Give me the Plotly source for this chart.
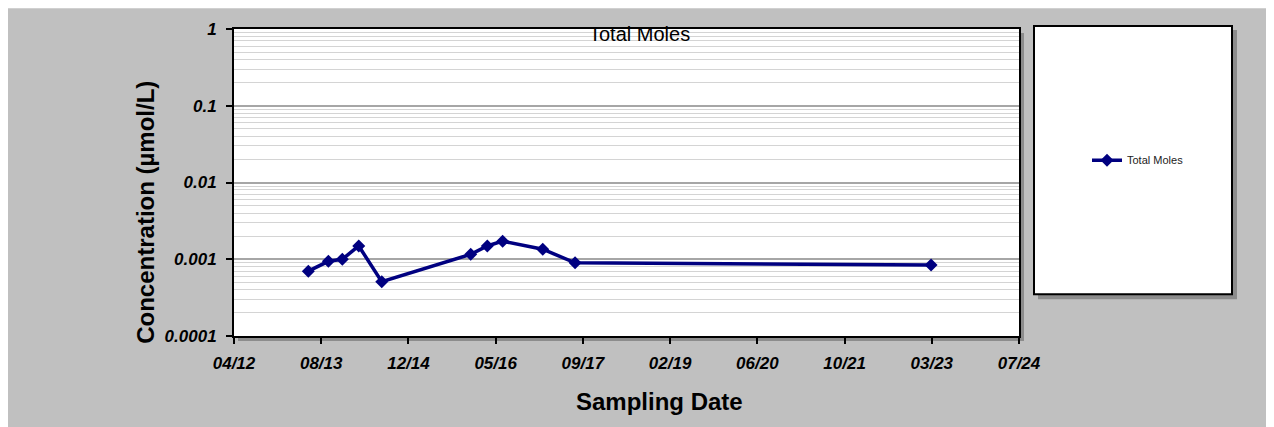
import pandas as pd
import plotly.graph_objects as go

# ---- data ----
sample_dates = ['2013-06-01', '2013-09-24', '2013-12-13', '2014-03-17', '2014-07-27',
                '2015-12-19', '2016-03-23', '2016-06-19', '2017-02-04', '2017-08-08',
                '2023-03-11']
total_moles = [0.00070, 0.00094, 0.00100, 0.00149, 0.00051,
               0.00116, 0.00149, 0.00172, 0.00135, 0.00090,
               0.00084]
y_tickvals = [1, 0.1, 0.01, 0.001, 0.0001]
y_ticktext = ['1', '0.1', '0.01', '0.001', '0.0001']
x_start, x_end = '2012-04-01', '2024-07-27'   # excel axis 41000 .. 45500
x_step_days = 500

FONT = 'Liberation Sans, Arial, sans-serif'
NAVY = '#000080'
OFF = 8   # page body margin
W, H = 1274 - OFF, 427 - OFF
L, R, T, B = 234 - OFF, 255, 27 - OFF, 91
pw, ph = W - L - R, H - T - B


def px(x):  # page pixel -> paper
    return (x - OFF - L) / pw


def py(y):
    return (H + OFF - B - y) / ph


fig = go.Figure()
fig.add_trace(go.Scatter(
    x=pd.to_datetime(sample_dates), y=total_moles, name='Total Moles',
    mode='lines+markers', line=dict(color=NAVY, width=3.5),
    marker=dict(symbol='diamond', size=10, color=NAVY)))

shapes = [
    # grey chart area
    dict(type='rect', xref='paper', yref='paper', x0=px(8), x1=px(1274), y0=py(430), y1=py(6),
         fillcolor='#c0c0c0', line_width=0, layer='below'),
    # plot area shadow + plot area
    dict(type='rect', xref='paper', yref='paper', x0=px(238), x1=px(1024), y0=py(341), y1=py(31),
         fillcolor='#8c8c8c', line_width=0, layer='below'),
    dict(type='rect', xref='paper', yref='paper', x0=0, x1=1, y0=0, y1=1,
         fillcolor='white', line_width=0, layer='below'),
    # legend box shadow + box
    dict(type='rect', xref='paper', yref='paper', x0=px(1038), x1=px(1237), y0=py(299), y1=py(28),
         fillcolor='#8c8c8c', line_width=0, layer='below'),
    dict(type='rect', xref='paper', yref='paper', x0=px(1034), x1=px(1232), y0=py(294), y1=py(24),
         fillcolor='white', line=dict(color='black', width=2), layer='below'),
]

annotations = [
    dict(text='Total Moles', x=px(639), y=py(32), xref='paper', yref='paper', showarrow=False,
         xanchor='center', yanchor='middle', font=dict(family=FONT, size=20, color='black')),
    dict(text='Concentration (µmol/L)', x=px(146), y=py(212), xref='paper', yref='paper',
         showarrow=False, textangle=-90, xanchor='center', yanchor='middle',
         font=dict(family=FONT, size=24, color='black', weight='bold')),
    dict(text='Sampling Date', x=px(659), y=py(402), xref='paper', yref='paper', showarrow=False,
         xanchor='center', yanchor='middle',
         font=dict(family=FONT, size=24, color='black', weight='bold')),
]

tickfont = dict(family=FONT, size=17, color='black', weight='bold', style='italic')

fig.update_layout(
    width=W, height=H, margin=dict(l=L, r=R, t=T, b=B, pad=0),
    paper_bgcolor='white', plot_bgcolor='rgba(0,0,0,0)',
    shapes=shapes, annotations=annotations,
    showlegend=True,
    legend=dict(x=px(1087), y=py(159), xanchor='left', yanchor='middle',
                bgcolor='rgba(0,0,0,0)', font=dict(family=FONT, size=11, color='#222')),
    xaxis=dict(type='date', range=[x_start, x_end], tick0=x_start,
               dtick=x_step_days * 86400000, tickformat='%m/%y',
               showgrid=False, zeroline=False, showline=True, linecolor='black', linewidth=2,
               mirror=True, ticks='outside', ticklen=6, tickwidth=2, tickcolor='black',
               tickfont=tickfont, ticklabelstandoff=5),
    yaxis=dict(type='log', range=[-4, 0], tickmode='array', tickvals=y_tickvals,
               ticktext=y_ticktext, showgrid=True, gridcolor='#a6a6a6', gridwidth=1.5,
               zeroline=False, showline=True, linecolor='black', linewidth=2, mirror=True,
               ticks='outside', ticklen=6, tickwidth=2, tickcolor='black', tickfont=tickfont,
               ticklabelstandoff=6,
               minor=dict(tickmode='linear', dtick='D1', showgrid=True,
                          gridcolor='#d4d4d4', gridwidth=1, ticks='')),
)

fig.write_html('out.html')
